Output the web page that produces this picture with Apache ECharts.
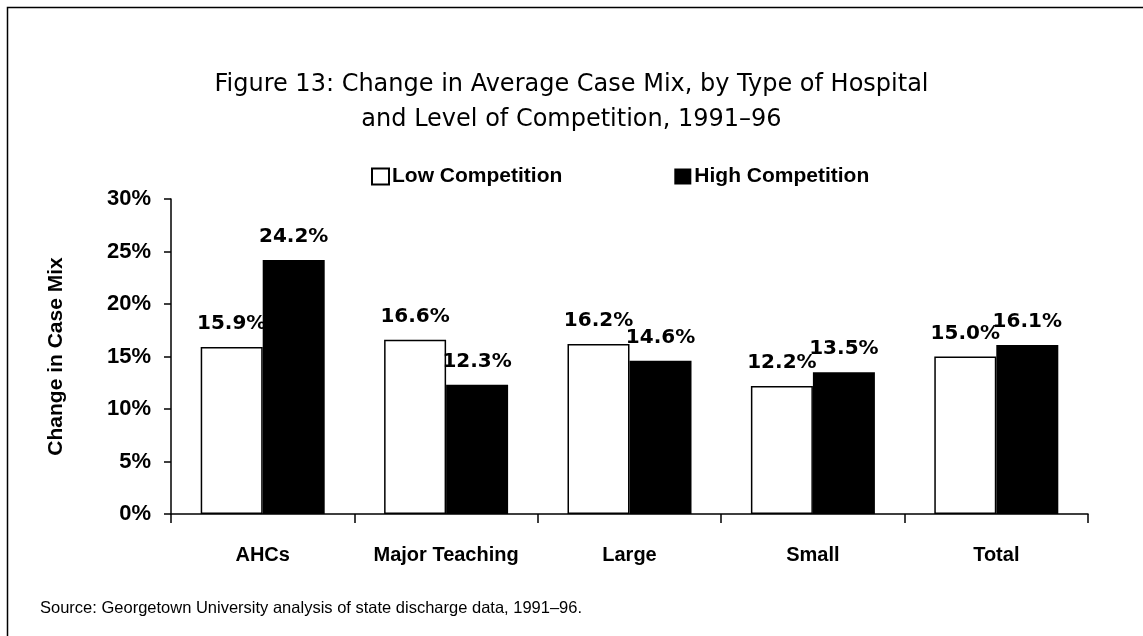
<!DOCTYPE html>
<html>
<head>
<meta charset="utf-8">
<script src="https://cdn.jsdelivr.net/npm/echarts@6/dist/echarts.min.js"></script>
<style>
  html, body { margin: 0; padding: 0; background: #fff; }
  #chart { width: 1143px; height: 636px; }
</style>
</head>
<body>
<div id="chart"></div>
<script>
// hospital types along the x axis
const categories = ['AHCs', 'Major Teaching', 'Large', 'Small', 'Total'];
// change in average case mix, percent
const lowCompetition = [15.9, 16.6, 16.2, 12.2, 15.0];
const highCompetition = [24.2, 12.3, 14.6, 13.5, 16.1];
const yTicks = [0, 5, 10, 15, 20, 25, 30];

const chart = echarts.init(document.getElementById('chart'));

const labelStyle = {
    show: true,
    position: 'top',
    distance: 13,
    fontFamily: 'DejaVu Sans',
    fontWeight: 'bold',
    fontSize: 20,
    color: '#000',
    formatter: p => p.value.toFixed(1) + '%'
};

chart.setOption({
    backgroundColor: '#fff',
    animation: false,
    title: {
        text: 'Figure 13: Change in Average Case Mix, by Type of Hospital\nand Level of Competition, 1991–96',
        left: 'center',
        top: 62,
        textStyle: {
            fontFamily: 'DejaVu Sans',
            fontWeight: 'normal',
            fontSize: 24,
            lineHeight: 35,
            color: '#000'
        }
    },
    graphic: [
        {
            type: 'rect',
            shape: { x: 7.5, y: 7.5, width: 1150, height: 640 },
            style: { fill: 'none', stroke: '#000', lineWidth: 1.5 }
        },
        {
            type: 'text',
            left: 40,
            top: 600,
            style: {
                text: 'Source: Georgetown University analysis of state discharge data, 1991–96.',
                fontFamily: 'Liberation Sans',
                fontSize: 16.5,
                fill: '#000'
            }
        }
    ],
    legend: {
        left: 366,
        top: 161,
        icon: 'rect',
        itemWidth: 17,
        itemHeight: 16,
        itemGap: 112,
        textStyle: {
            fontFamily: 'Liberation Sans',
            fontWeight: 'bold',
            fontSize: 21,
            color: '#000',
            padding: [0, 0, 0, -2]
        },
        data: ['Low Competition', 'High Competition']
    },
    grid: {
        left: 171,
        right: 55,
        top: 199,
        bottom: 122
    },
    xAxis: {
        type: 'category',
        data: categories,
        axisLine: { lineStyle: { color: '#000', width: 1.5 } },
        axisTick: { show: true, interval: 0, length: 9, lineStyle: { color: '#000', width: 1.5 } },
        axisLabel: {
            interval: 0,
            margin: 31,
            fontFamily: 'Liberation Sans',
            fontWeight: 'bold',
            fontSize: 20,
            color: '#000'
        }
    },
    yAxis: {
        type: 'value',
        min: 0,
        max: 30,
        interval: 5,
        name: 'Change in Case Mix',
        nameLocation: 'middle',
        nameGap: 104,
        nameRotate: 90,
        nameTextStyle: {
            fontFamily: 'Liberation Sans',
            fontWeight: 'bold',
            fontSize: 21,
            color: '#000'
        },
        splitLine: { show: false },
        axisLine: { show: true, lineStyle: { color: '#000', width: 1.5 } },
        axisTick: { show: true, length: 7, lineStyle: { color: '#000', width: 1.5 } },
        axisLabel: {
            margin: 20,
            fontFamily: 'Liberation Sans',
            fontWeight: 'bold',
            fontSize: 22,
            color: '#000',
            formatter: v => yTicks.includes(v) ? v + '%' : ''
        }
    },
    series: [
        {
            name: 'Low Competition',
            type: 'bar',
            data: lowCompetition,
            barWidth: 62,
            barGap: '0%',
            itemStyle: { color: '#fff', borderColor: '#000', borderWidth: 1.5 },
            label: labelStyle
        },
        {
            name: 'High Competition',
            type: 'bar',
            data: highCompetition,
            barWidth: 62,
            itemStyle: { color: '#000', borderColor: '#000', borderWidth: 0 },
            label: labelStyle
        }
    ]
});
</script>
</body>
</html>
